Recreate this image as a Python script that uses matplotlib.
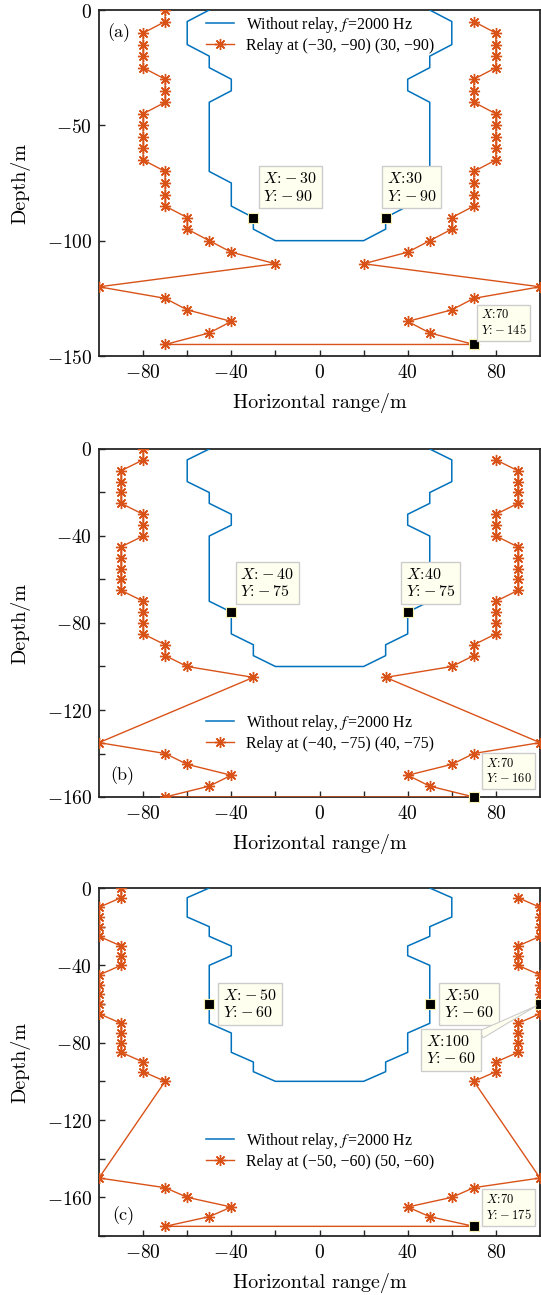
import matplotlib
matplotlib.use('Agg')
import matplotlib.pyplot as plt
from matplotlib.font_manager import FontProperties
from matplotlib.ticker import FixedLocator

# ---------------- data ----------------
blue_x = [-50, -60, -60, -50, -50, -40, -40, -50, -50, -40, -40, -30, -30, -20,
          20, 30, 30, 40, 40, 50, 50, 40, 40, 50, 50, 60, 60, 50]
blue_y = [0, -5, -15, -20, -25, -30, -35, -40, -70, -75, -85, -90, -95, -100,
          -100, -95, -90, -85, -75, -70, -40, -35, -30, -25, -20, -15, -5, 0]

# panel (a)
a_left_y = [0, -5, -10, -15, -20, -25, -30, -35, -40, -45, -50, -55, -60, -65, -70, -75,
            -80, -85, -90, -95, -100, -105, -110, -120, -125, -130, -135, -140, -145]
a_left_x = [-70, -70, -80, -80, -80, -80, -70, -70, -70, -80, -80, -80, -80, -80, -70, -70,
            -70, -70, -60, -60, -50, -40, -20, -100, -70, -60, -40, -50, -70]
a_right_y = [-145, -140, -135, -130, -125, -120, -110, -105, -100, -95, -90, -85, -80, -75,
             -70, -65, -60, -55, -50, -45, -40, -35, -30, -25, -20, -15, -10, -5]
a_right_x = [70, 50, 40, 60, 70, 100, 20, 40, 50, 60, 60, 70, 70, 70,
             70, 80, 80, 80, 80, 80, 70, 70, 70, 80, 80, 80, 80, 70]

# panel (b)
b_left_y = [0, -5, -10, -15, -20, -25, -30, -35, -40, -45, -50, -55, -60, -65, -70, -75,
            -80, -85, -90, -95, -100, -105, -135, -140, -145, -150, -155, -160]
b_left_x = [-80, -80, -90, -90, -90, -90, -80, -80, -80, -90, -90, -90, -90, -90, -80, -80,
            -80, -80, -70, -70, -60, -30, -100, -70, -60, -40, -50, -70]
b_right_y = [-160, -155, -150, -145, -140, -135, -105, -100, -95, -90, -85, -80, -75, -70,
             -65, -60, -55, -50, -45, -40, -35, -30, -25, -20, -15, -10, -5]
b_right_x = [70, 50, 40, 60, 70, 100, 30, 60, 70, 70, 80, 80, 80, 80,
             90, 90, 90, 90, 90, 80, 80, 80, 90, 90, 90, 90, 80]

# panel (c)
c_left_y = [0, -5, -10, -15, -20, -25, -30, -35, -40, -45, -50, -55, -60, -65, -70, -75,
            -80, -85, -90, -95, -100, -150, -155, -160, -165, -170, -175]
c_left_x = [-90, -90, -100, -100, -100, -100, -90, -90, -90, -100, -100, -100, -100, -100,
            -90, -90, -90, -90, -80, -80, -70, -100, -70, -60, -40, -50, -70]
c_right_y = [-175, -170, -165, -160, -155, -150, -100, -95, -90, -85, -80, -75, -70,
             -65, -60, -55, -50, -45, -40, -35, -30, -25, -20, -15, -10, -5]
c_right_x = [70, 50, 40, 60, 70, 100, 70, 80, 80, 90, 90, 90, 90,
             100, 100, 100, 100, 100, 90, 90, 90, 100, 100, 100, 100, 90]

panel_tags = ['(a)', '(b)', '(c)']
relay_labels = ['Relay at (\u221230, \u221290) (30, \u221290)',
                'Relay at (\u221240, \u221275) (40, \u221275)',
                'Relay at (\u221250, \u221260) (50, \u221260)']
blue_label = 'Without relay, $f\\,$=2000 Hz'
ylims = [-150, -160, -180]
ytick_vals = [[0, -50, -100, -150],
              [0, -20, -40, -60, -80, -100, -120, -140, -160],
              [0, -20, -40, -60, -80, -100, -120, -140, -160, -180]]
ytick_labels = [[0, -50, -100, -150],
                [0, -40, -80, -120, -160],
                [0, -40, -80, -120, -160]]
xtick_vals = [-80, -60, -40, -20, 0, 20, 40, 60, 80]
xtick_labels = [-80, -40, 0, 40, 80]

# data tips
tips = [
    [(-30, -90), (30, -90), (70, -145)],
    [(-40, -75), (40, -75), (70, -160)],
    [(-50, -60), (50, -60), (100, -60), (70, -175)],
]
# style: text offsets in pixels, alignment, font size
tip_style = [
    [((10, 14), 'left', 'bottom', 11.5), ((1, 14), 'left', 'bottom', 11.5), ((7, 7), 'left', 'bottom', 9)],
    [((9, 13), 'left', 'bottom', 11.5), ((-2, 13), 'left', 'bottom', 11.5), ((12, 12), 'left', 'bottom', 9)],
    [((14, 0), 'left', 'center', 11.5), ((14, 0), 'left', 'center', 11.5), ((-114, -46), 'left', 'center', 11.5),
     ((12, 4), 'left', 'bottom', 9)],
]
legend_anchor = [(0.222, 1.014), (0.222, 0.27), (0.222, 0.33)]
tag_pos = [(0.018, 0.935), (0.025, 0.06), (0.03, 0.058)]

# ---------------- figure ----------------
plt.rcParams['mathtext.fontset'] = 'cm'
plt.rcParams['axes.unicode_minus'] = True

BLUE = '#0072BD'
RED = '#D95319'
W, H = 541, 1295
fig = plt.figure(figsize=(W / 100, H / 100), dpi=100)

ax_rects = [(99, 10, 540, 356), (99, 449, 540, 797), (99, 888, 540, 1236)]
cm_font = 'cmr10'
leg_prop = FontProperties(family='Liberation Serif', size=11.4, math_fontfamily='stix')

def fmt(v):
    return r'$%d$' % v if v >= 0 else r'$-%d$' % (-v)

panels = [(a_left_x, a_left_y, a_right_x, a_right_y),
          (b_left_x, b_left_y, b_right_x, b_right_y),
          (c_left_x, c_left_y, c_right_x, c_right_y)]

for i, (l, t, r, b) in enumerate(ax_rects):
    ax = fig.add_axes([l / W, 1 - b / H, (r - l) / W, (b - t) / H])
    lx, ly, rx, ry = panels[i]
    ax.plot(blue_x, blue_y, color=BLUE, lw=1.1, label=blue_label, zorder=3)
    ax.plot(lx + rx, ly + ry, color=RED, lw=1.0, marker=(8, 2, 0), ms=8, mew=1.0,
            label=relay_labels[i], zorder=3)
    ax.set_xlim(-100, 100)
    ax.set_ylim(ylims[i], 0)
    ax.xaxis.set_major_locator(FixedLocator(xtick_vals))
    ax.set_xticklabels([fmt(v) if v in xtick_labels else '' for v in xtick_vals])
    ax.yaxis.set_major_locator(FixedLocator(ytick_vals[i]))
    ax.set_yticklabels([fmt(v) if v in ytick_labels[i] else '' for v in ytick_vals[i]])
    ax.tick_params(direction='in', length=4, width=1.0, labelsize=14, color='#262626',
                   top=False, right=False, pad=5)
    for s in ax.spines.values():
        s.set_linewidth(1.3)
        s.set_color('#262626')
    ax.set_xlabel('Horizontal range/m', family=cm_font, fontsize=14.5, labelpad=8)
    ax.set_ylabel('Depth/m', family=cm_font, fontsize=14.5, labelpad=12)
    ax.text(tag_pos[i][0], tag_pos[i][1], panel_tags[i], transform=ax.transAxes,
            family=cm_font, fontsize=13, ha='left', va='center')
    ax.legend(loc='upper left', bbox_to_anchor=legend_anchor[i], frameon=False,
              prop=leg_prop, handlelength=1.75, handletextpad=0.75, labelspacing=0.2,
              borderaxespad=0.2)

    for (px, py), (off, ha, va, fs) in zip(tips[i], tip_style[i]):
        ax.plot([px], [py], marker='s', ms=7, color='black', mec='#F6F0B0', mew=0.8,
                zorder=6, clip_on=False)
        txt = (r'$X\!:\!%s$' % (('%d' % px) if px >= 0 else r'-%d' % (-px))) + '\n' + \
              (r'$Y\!:\!-%d$' % (-py))
        arrow = None
        if off[1] < -30:
            arrow = dict(arrowstyle='wedge,tail_width=0.5', fc='#FFFFF0', ec='#CCCCCC', lw=0.8,
                         shrinkA=0, shrinkB=3)
        ax.annotate(txt, xy=(px, py), xytext=off, textcoords='offset pixels',
                    ha=ha, va=va, fontsize=fs, zorder=7, annotation_clip=False,
                    linespacing=1.2,
                    bbox=dict(boxstyle='square,pad=0.3', fc='#FFFFF0', ec='#CCCCCC', lw=1.0),
                    arrowprops=arrow)

fig.savefig('out.png', dpi=100)
